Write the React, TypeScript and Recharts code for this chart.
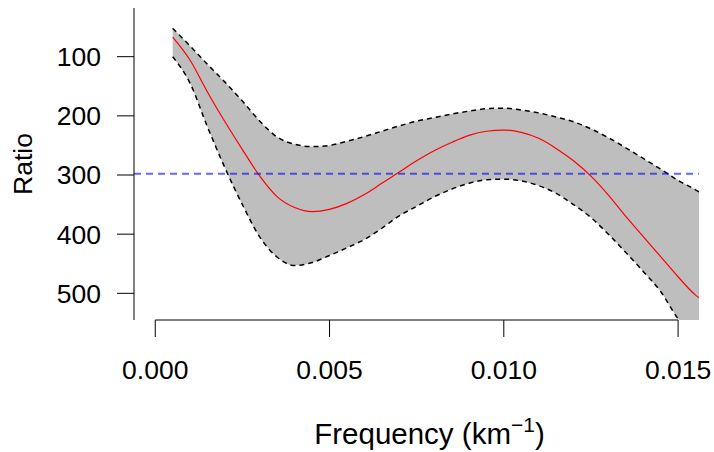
import { ComposedChart, Area, Line, XAxis, YAxis, ReferenceLine } from 'recharts'

// frequency samples (km^-1)
const frequency = [
  0.0005, 0.001, 0.0015, 0.002, 0.0025, 0.003, 0.0035, 0.004, 0.0045, 0.005,
  0.0055, 0.006, 0.0065, 0.007, 0.0075, 0.008, 0.0085, 0.009, 0.0095, 0.01,
  0.0105, 0.011, 0.0115, 0.012, 0.0125, 0.013, 0.0135, 0.014, 0.0145, 0.015,
  0.0155, 0.016,
]
// central estimate
const ratio = [
  67, 106, 160, 210, 257, 302, 337, 355, 362, 358,
  348, 333, 314, 295, 276, 259, 245, 233, 226, 224,
  228, 238, 255, 276, 302, 334, 370, 404, 438, 472,
  503, 520,
]
// band edges (y axis is reversed, so "upper" is the smaller ratio)
const upper = [
  52, 82, 113, 143, 175, 209, 236, 248, 252, 250,
  243, 235, 226, 217, 209, 203, 197, 192, 188, 187,
  190, 195, 202, 210, 222, 237, 254, 272, 290, 309,
  325, 343,
]
const lower = [
  100, 145, 219, 288, 350, 405, 439, 453, 448, 436,
  423, 409, 390, 369, 353, 337, 324, 314, 308, 307,
  310, 318, 331, 350, 372, 400, 431, 463, 497, 543,
  575, 605,
]
const threshold = 298

const xTicks = [0, 0.005, 0.01, 0.015]
const yTicks = [100, 200, 300, 400, 500]
const xDomain: [number, number] = [-0.00061, 0.0156]
const yDomain: [number, number] = [17.7, 545.1]

const font = '"Liberation Sans", Arial, Helvetica, sans-serif'

const data = frequency.map((f, i) => ({
  freq: f,
  ratio: ratio[i],
  upper: upper[i],
  lower: lower[i],
  band: [upper[i], lower[i]],
}))

const XTitle = () => (
  <text x={429.5} y={444} textAnchor="middle" fontFamily={font} fontSize={29.5} fill="#000">
    Frequency (km
    <tspan dy={-12} fontSize={21}>−1</tspan>
    <tspan dy={12}>)</tspan>
  </text>
)

const YTitle = () => (
  <text
    x={31.5}
    y={164}
    textAnchor="middle"
    fontFamily={font}
    fontSize={26.5}
    fill="#000"
    transform="rotate(-90, 31.5, 164)"
  >
    Ratio
  </text>
)

export default function App() {
  return (
    <div style={{ position: 'absolute', left: 0, top: 0, background: '#fff' }}>
      <ComposedChart
        width={714}
        height={452}
        data={data}
        margin={{ top: 8, right: 15, bottom: 0, left: 0 }}
      >
        <XAxis
          dataKey="freq"
          type="number"
          domain={xDomain}
          allowDataOverflow
          ticks={xTicks}
          tickFormatter={(v: number) => v.toFixed(3)}
          axisLine={false}
          tickSize={17}
          tickMargin={23}
          stroke="#000"
          tick={{ fill: '#000', fontSize: 26.5, fontFamily: font }}
          height={132}
          interval={0}
          label={{ content: () => <XTitle /> }}
        />
        <YAxis
          type="number"
          domain={yDomain}
          allowDataOverflow
          reversed
          ticks={yTicks}
          tickSize={17}
          tickMargin={16}
          stroke="#000"
          tick={{ fill: '#000', fontSize: 26.5, fontFamily: font }}
          width={134}
          interval={0}
          label={{ content: () => <YTitle /> }}
        />
        <Area
          dataKey="band"
          type="monotone"
          fill="#bebebe"
          fillOpacity={1}
          stroke="none"
          isAnimationActive={false}
        />
        <Line
          dataKey="upper"
          type="monotone"
          stroke="#000"
          strokeWidth={1.5}
          strokeDasharray="5 4"
          dot={false}
          isAnimationActive={false}
        />
        <Line
          dataKey="lower"
          type="monotone"
          stroke="#000"
          strokeWidth={1.5}
          strokeDasharray="5 4"
          dot={false}
          isAnimationActive={false}
        />
        <Line
          dataKey="ratio"
          type="monotone"
          stroke="#ff0000"
          strokeWidth={1.2}
          dot={false}
          isAnimationActive={false}
        />
        <ReferenceLine
          y={threshold}
          stroke="rgba(0,0,255,0.6)"
          strokeWidth={2}
          strokeDasharray="7 5"
        />
        <ReferenceLine
          segment={[
            { x: 0, y: yDomain[1] },
            { x: 0.015, y: yDomain[1] },
          ]}
          stroke="#000"
          strokeWidth={1}
        />
      </ComposedChart>
    </div>
  )
}
